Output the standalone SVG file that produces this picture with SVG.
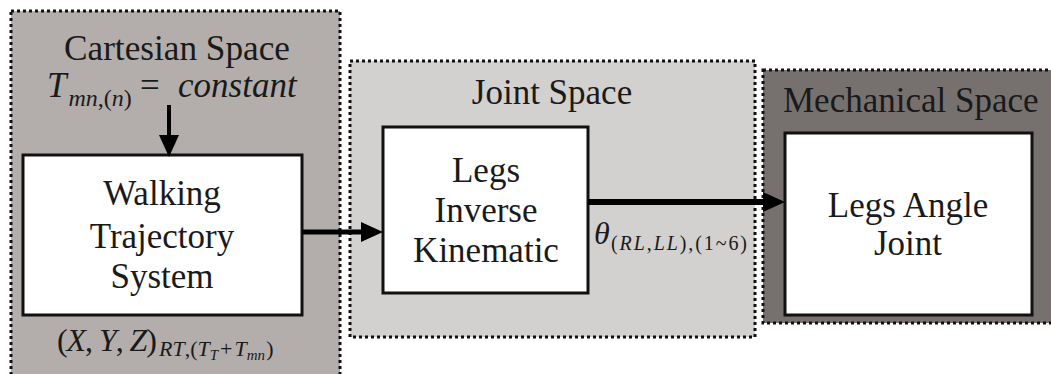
<svg xmlns="http://www.w3.org/2000/svg" width="1051" height="374" viewBox="0 0 1051 374" font-family="Liberation Serif, Times New Roman, serif">
<style>
.panel{stroke:#111;stroke-width:3;stroke-dasharray:3 3}
.box{fill:#fff;stroke:#111;stroke-width:3}
.t{font-size:35px;fill:#1a1a1a}
.c{text-anchor:middle}
.m{fill:#1a1a1a}
.i{font-style:italic}
.conn{stroke:#000;fill:none}
</style>
<defs>
<marker id="ah" markerUnits="userSpaceOnUse" markerWidth="22" markerHeight="20" refX="0" refY="10" orient="auto" overflow="visible">
<path d="M0,0 L22,10 L0,20 Z" fill="#000"/>
</marker>
</defs>
<rect width="1051" height="374" fill="#fff"/>
<g id="cartesian-space">
<rect class="panel" x="11" y="11" width="329" height="375" fill="#b3aeac"/>
<text class="t c" x="177" y="60" textLength="226" lengthAdjust="spacingAndGlyphs">Cartesian Space</text>
<text class="m" x="47" y="97" font-size="35"><tspan class="i">T</tspan><tspan font-size="24" dy="9" dx="2"><tspan class="i">mn</tspan>,(<tspan class="i">n</tspan>)</tspan></text>
<text class="m" x="140" y="97" font-size="35">=</text>
<text class="m i" x="178" y="97" font-size="35">constant</text>
<text class="m" x="57" y="351" font-size="32" textLength="100" lengthAdjust="spacing">(<tspan class="i">X</tspan>, <tspan class="i">Y</tspan>, <tspan class="i">Z</tspan>)</text>
<text class="m" x="159" y="356" font-size="22"><tspan class="i">RT</tspan>,(<tspan class="i">T</tspan><tspan class="i" font-size="15" dy="4">T</tspan><tspan dy="-4" dx="2">+</tspan><tspan class="i" dx="2">T</tspan><tspan class="i" font-size="15" dy="4">mn</tspan><tspan dy="-4" dx="1">)</tspan></text>
</g>
<g id="joint-space">
<rect class="panel" x="350" y="61" width="405" height="276" fill="#d3d0d0"/>
<text class="t c" x="552" y="104">Joint Space</text>
</g>
<g id="mechanical-space">
<rect class="panel" x="763" y="70" width="300" height="253" fill="#76716f"/>
<text class="t" x="783" y="112">Mechanical Space</text>
</g>
<g id="walking-trajectory-system">
<rect class="box" x="23" y="155" width="279" height="160"/>
<text class="t c" x="162" y="205">Walking</text>
<text class="t c" x="162" y="248">Trajectory</text>
<text class="t c" x="162" y="288">System</text>
</g>
<g id="legs-inverse-kinematic">
<rect class="box" x="383" y="127" width="205" height="166"/>
<text class="t c" x="486" y="182">Legs</text>
<text class="t c" x="486" y="222">Inverse</text>
<text class="t c" x="486" y="262">Kinematic</text>
</g>
<g id="legs-angle-joint">
<rect class="box" x="785" y="133" width="247" height="182"/>
<text class="t c" x="908" y="217">Legs Angle</text>
<text class="t c" x="908" y="255">Joint</text>
</g>
<g id="connectors">
<line class="conn" x1="169" y1="105" x2="169" y2="135" stroke-width="4" marker-end="url(#ah)"/>
<line class="conn" x1="302" y1="232" x2="361" y2="232" stroke-width="5" marker-end="url(#ah)"/>
<line class="conn" x1="588" y1="202" x2="763" y2="202" stroke-width="6" marker-end="url(#ah)"/>
<text class="m i" x="594" y="244" font-size="32">θ</text>
<text class="m" x="611" y="250" font-size="20" textLength="136" lengthAdjust="spacing">(<tspan class="i">RL</tspan>,<tspan class="i">LL</tspan>),(1~6)</text>
</g>
</svg>
